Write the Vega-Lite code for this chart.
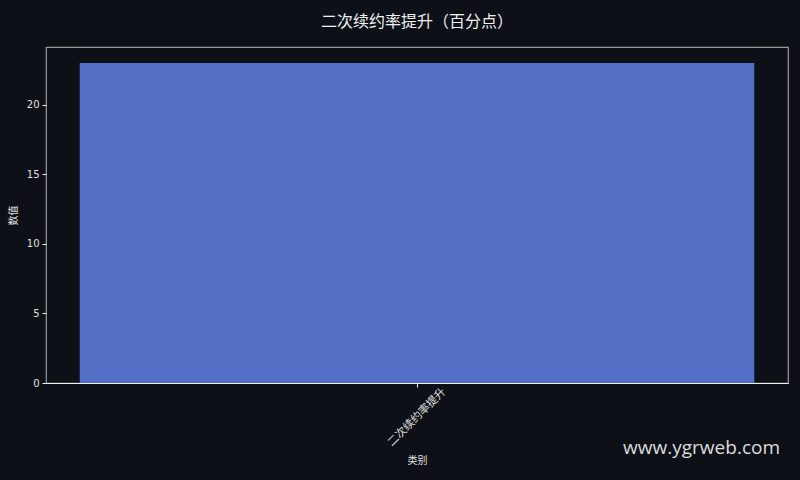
{
  "$schema": "https://vega.github.io/schema/vega-lite/v6.json",
  "background": "#0d1017",
  "autosize": {"type": "none"},
  "padding": {"left": 46, "top": 47, "right": 12, "bottom": 97},
  "width": 742,
  "height": 336,
  "title": {
    "text": "二次续约率提升（百分点）",
    "color": "#f0f0f0",
    "font": "Noto Sans CJK SC",
    "fontSize": 16,
    "fontWeight": "normal",
    "anchor": "middle",
    "offset": 17
  },
  "config": {
    "view": {"stroke": "#9a9a9a", "strokeWidth": 1.2},
    "font": "Noto Sans CJK SC"
  },
  "data": {"values": [{"类别": "二次续约率提升", "数值": 23}]},
  "layer": [
    {
      "mark": {"type": "bar", "color": "#5470c6"},
      "encoding": {
        "x": {
          "field": "类别",
          "type": "nominal",
          "title": "类别",
          "scale": {"paddingInner": 0, "paddingOuter": 0.05},
          "axis": {
            "labelAngle": -45,
            "labelAlign": "center",
            "labelBaseline": "middle",
            "labelColor": "#e0e0e0",
            "labelFontSize": 11,
            "labelPadding": 30,
            "titleColor": "#e0e0e0",
            "titleFontSize": 10,
            "titleFontWeight": "normal",
            "titlePadding": 8,
            "domainColor": "#f0f0f0",
            "tickColor": "#f0f0f0",
            "tickSize": 4
          }
        },
        "y": {
          "field": "数值",
          "type": "quantitative",
          "title": "数值",
          "scale": {"domain": [0, 24.15], "nice": false},
          "axis": {
            "values": [0, 5, 10, 15, 20],
            "grid": false,
            "domain": false,
            "labelColor": "#e0e0e0",
            "labelFontSize": 10,
            "labelFont": "DejaVu Sans",
            "labelPadding": 3,
            "tickColor": "#f0f0f0",
            "tickSize": 4,
            "titleColor": "#e0e0e0",
            "titleFontSize": 10,
            "titleFontWeight": "normal",
            "titlePadding": 8
          }
        }
      }
    },
    {
      "data": {"values": [{"mark_text": "www.ygrweb.com"}]},
      "mark": {
        "type": "text",
        "align": "right",
        "baseline": "middle",
        "x": {"expr": "width - 8"},
        "y": {"expr": "height + 65"},
        "font": "Open Sans",
        "fontSize": 19,
        "color": "#dcdcdc"
      },
      "encoding": {"text": {"field": "mark_text"}}
    }
  ]
}
